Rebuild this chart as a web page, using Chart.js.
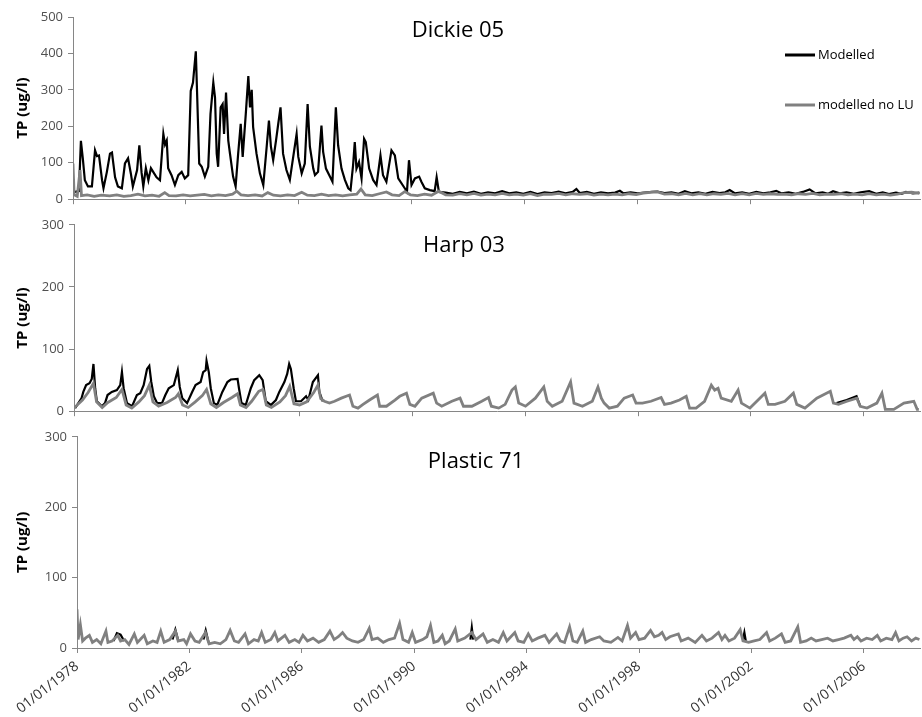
<!DOCTYPE html>
<html>
<head>
<meta charset="utf-8">
<title>TP modelled</title>
<script src="https://cdn.jsdelivr.net/npm/chart.js@4.4.0/dist/chart.umd.min.js"></script>
<style>
  body { margin: 0; background: #fff; }
  #wrap { position: relative; width: 922px; height: 717px; }
  canvas { position: absolute; left: 0; }
</style>
</head>
<body>
<div id="wrap">
  <canvas id="dickie" width="922" height="212" style="top:0"></canvas>
  <canvas id="harp" width="922" height="212" style="top:212px"></canvas>
  <canvas id="plastic" width="922" height="293" style="top:424px"></canvas>
</div>
<script>
// TP (ug/l) per catchment, [decimal year, value]; [year, null] = gap in the line

const tickYears = [1978, 1982, 1986, 1990, 1994, 1998, 2002, 2006];

const dickieModelled = [
  [1978.00, 20], [1978.07, 20], [1978.21, 22], [1978.28, 160], [1978.35, 110], [1978.42, 52],
  [1978.53, 35], [1978.67, 35], [1978.78, 134], [1978.85, 118], [1978.92, 120], [1979.03, 52],
  [1979.08, 30], [1979.20, 75], [1979.31, 125], [1979.38, 128], [1979.49, 60], [1979.59, 35],
  [1979.73, 30], [1979.84, 98], [1979.95, 112], [1980.05, 70], [1980.12, 35], [1980.27, 80],
  [1980.35, 148], [1980.43, 72], [1980.49, 35], [1980.58, 85], [1980.67, 52], [1980.76, 85],
  [1980.84, 75], [1980.96, 60], [1981.08, 52], [1981.20, 179], [1981.26, 150], [1981.32, 161],
  [1981.37, 85], [1981.49, 66], [1981.61, 39], [1981.73, 66], [1981.85, 75], [1981.96, 57],
  [1982.08, 66], [1982.17, 297], [1982.25, 320], [1982.35, 406], [1982.40, 279], [1982.47, 98],
  [1982.56, 89], [1982.67, 62], [1982.79, 89], [1982.87, 234], [1982.97, 320], [1983.03, 279],
  [1983.09, 125], [1983.14, 89], [1983.23, 252], [1983.30, 261], [1983.35, 179], [1983.42, 293],
  [1983.50, 161], [1983.56, 125], [1983.67, 62], [1983.76, 35], [1983.85, 125], [1983.94, 207],
  [1984.01, 116], [1984.12, 234], [1984.21, 338], [1984.27, 252], [1984.33, 300], [1984.38, 198],
  [1984.50, 125], [1984.62, 71], [1984.74, 39], [1984.86, 144], [1984.94, 216], [1985.01, 144],
  [1985.09, 107], [1985.19, 161], [1985.27, 207], [1985.35, 252], [1985.44, 125], [1985.56, 80],
  [1985.68, 53], [1985.80, 116], [1985.92, 179], [1985.98, 116], [1986.10, 71], [1986.21, 98],
  [1986.31, 261], [1986.39, 144], [1986.51, 84], [1986.57, 66], [1986.68, 75], [1986.80, 202],
  [1986.86, 130], [1986.96, 84], [1987.10, 62], [1987.19, 48], [1987.31, 252], [1987.39, 148],
  [1987.51, 84], [1987.63, 53], [1987.75, 30], [1987.83, 25], [1987.92, 93], [1987.98, 157],
  [1988.04, 84], [1988.13, 102], [1988.22, 57], [1988.31, 166], [1988.37, 157], [1988.49, 84],
  [1988.63, 53], [1988.75, 39], [1988.89, 120], [1988.98, 66], [1989.10, 48], [1989.28, 134],
  [1989.40, 120], [1989.52, 57], [1989.75, 30], [1989.83, 21], [1989.90, 107], [1989.99, 39],
  [1990.11, 57], [1990.26, 62], [1990.34, 48], [1990.46, 30], [1990.64, 25], [1990.81, 22],
  [1990.88, 60], [1990.96, 20], [1991.20, 18], [1991.45, 15], [1991.70, 20], [1991.95, 16],
  [1992.20, 21], [1992.45, 15], [1992.70, 19], [1992.95, 16], [1993.20, 22], [1993.45, 16],
  [1993.70, 19], [1993.95, 15], [1994.20, 20], [1994.45, 14], [1994.70, 19], [1994.95, 17],
  [1995.20, 21], [1995.45, 16], [1995.70, 20], [1995.83, 28], [1995.95, 17], [1996.20, 20],
  [1996.45, 15], [1996.70, 19], [1996.95, 16], [1997.20, 18], [1997.37, 23], [1997.50, 16],
  [1997.75, 19], [1998.00, 16], [1998.25, 18], [1998.50, 20], [1998.70, 21], [1998.95, 17],
  [1999.20, 19], [1999.45, 15], [1999.67, 22], [1999.90, 16], [2000.15, 19], [2000.40, 15],
  [2000.65, 20], [2000.90, 17], [2001.10, 19], [2001.26, 25], [2001.45, 16], [2001.70, 19],
  [2001.95, 15], [2002.20, 20], [2002.45, 16], [2002.70, 19], [2002.91, 23], [2003.10, 16],
  [2003.35, 19], [2003.60, 15], [2003.85, 20], [2004.09, 27], [2004.30, 16], [2004.55, 19],
  [2004.75, 15], [2004.92, 22], [2005.15, 16], [2005.40, 19], [2005.65, 15], [2005.90, 19],
  [2006.20, 22], [2006.45, 15], [2006.68, 19], [2006.90, 14], [2007.15, 18], [2007.35, 15],
  [2007.50, 20], [2007.75, 16], [2007.98, 18]
];

const dickieNoLU = [
  [1978.00, 98], [1978.04, 12], [1978.15, 8], [1978.25, 80], [1978.30, 10], [1978.50, 12],
  [1978.75, 8], [1979.00, 11], [1979.30, 9], [1979.55, 12], [1979.80, 8], [1980.05, 10],
  [1980.30, 14], [1980.55, 9], [1980.80, 11], [1981.05, 8], [1981.25, 18], [1981.40, 10],
  [1981.65, 9], [1981.90, 12], [1982.15, 9], [1982.40, 11], [1982.65, 13], [1982.90, 9],
  [1983.15, 12], [1983.40, 10], [1983.65, 14], [1983.80, 22], [1983.95, 12], [1984.20, 10],
  [1984.45, 12], [1984.70, 9], [1984.90, 18], [1985.10, 11], [1985.35, 9], [1985.60, 12],
  [1985.85, 10], [1986.10, 19], [1986.30, 11], [1986.55, 10], [1986.80, 14], [1987.05, 10],
  [1987.30, 12], [1987.55, 9], [1987.80, 12], [1988.05, 14], [1988.20, 28], [1988.35, 12],
  [1988.60, 10], [1988.85, 15], [1989.10, 20], [1989.30, 12], [1989.55, 10], [1989.75, 21],
  [1989.95, 12], [1990.20, 10], [1990.45, 14], [1990.70, 11], [1990.95, 22], [1991.20, 12],
  [1991.45, 11], [1991.70, 15], [1991.95, 12], [1992.20, 16], [1992.45, 11], [1992.70, 14],
  [1992.95, 12], [1993.20, 16], [1993.45, 12], [1993.70, 14], [1993.95, 11], [1994.20, 15],
  [1994.45, 10], [1994.70, 14], [1994.95, 13], [1995.20, 16], [1995.45, 12], [1995.70, 15],
  [1995.95, 13], [1996.20, 15], [1996.45, 11], [1996.70, 14], [1996.95, 12], [1997.20, 14],
  [1997.45, 12], [1997.70, 15], [1997.95, 13], [1998.20, 17], [1998.45, 19], [1998.70, 20],
  [1998.95, 14], [1999.20, 15], [1999.45, 12], [1999.70, 16], [1999.95, 12], [2000.20, 15],
  [2000.45, 12], [2000.70, 15], [2000.95, 13], [2001.20, 16], [2001.45, 12], [2001.70, 15],
  [2001.95, 12], [2002.20, 16], [2002.45, 13], [2002.70, 15], [2002.95, 13], [2003.20, 14],
  [2003.45, 12], [2003.70, 15], [2003.95, 13], [2004.20, 16], [2004.45, 12], [2004.70, 14],
  [2004.95, 13], [2005.20, 15], [2005.45, 12], [2005.70, 14], [2005.95, 12], [2006.20, 15],
  [2006.45, 12], [2006.70, 14], [2006.95, 11], [2007.20, 14], [2007.45, 18], [2007.70, 19],
  [2007.98, 16]
];

const harpModelled = [
  [1978.04, 5], [1978.27, 21], [1978.33, 31], [1978.43, 42], [1978.55, 45], [1978.63, 52],
  [1978.69, 76], [1978.75, 37], [1978.81, 16], [1978.99, 8], [1979.10, 13], [1979.19, 26],
  [1979.34, 31], [1979.52, 34], [1979.64, 42], [1979.70, 63], [1979.76, 37], [1979.88, 13],
  [1980.06, 8], [1980.23, 26], [1980.35, 29], [1980.47, 42], [1980.59, 68], [1980.67, 73],
  [1980.74, 47], [1980.83, 24], [1980.95, 13], [1981.12, 13], [1981.24, 26], [1981.36, 37],
  [1981.54, 42], [1981.68, 66], [1981.75, 39], [1981.84, 21], [1982.01, 13], [1982.19, 31],
  [1982.31, 42], [1982.49, 47], [1982.58, 63], [1982.67, 66], [1982.70, 81], [1982.78, 63],
  [1982.85, 37], [1982.96, 13], [1983.08, 10], [1983.26, 31], [1983.44, 47], [1983.56, 51],
  [1983.80, 52], [1983.85, 37], [1983.94, 13], [1984.09, 10], [1984.27, 37], [1984.39, 50],
  [1984.57, 58], [1984.69, 50], [1984.80, 16], [1984.98, 10], [1985.16, 18], [1985.28, 31],
  [1985.46, 47], [1985.56, 60], [1985.63, 76], [1985.69, 68], [1985.79, 37], [1985.87, 16],
  [1986.05, 16], [1986.23, 24], [1986.31, 18], [1986.47, 47], [1986.65, 58], [1986.70, 31],
  [1986.82, 16], [1986.90, null],
  [2005.04, 13], [2005.40, 18], [2005.75, 24], [2005.88, 8]
];

const harpNoLU = [
  [1978.00, 5], [1978.30, 18], [1978.50, 30], [1978.69, 45], [1978.80, 15], [1979.00, 6],
  [1979.20, 14], [1979.50, 22], [1979.70, 35], [1979.85, 10], [1980.05, 5], [1980.30, 15],
  [1980.50, 25], [1980.67, 42], [1980.80, 15], [1981.00, 8], [1981.30, 14], [1981.60, 22],
  [1981.70, 28], [1981.85, 10], [1982.05, 6], [1982.30, 15], [1982.55, 25], [1982.70, 35],
  [1982.85, 12], [1983.05, 6], [1983.30, 14], [1983.60, 22], [1983.80, 28], [1983.90, 10],
  [1984.10, 6], [1984.30, 16], [1984.55, 32], [1984.70, 35], [1984.82, 10], [1985.00, 6],
  [1985.30, 15], [1985.50, 25], [1985.65, 40], [1985.80, 12], [1986.00, 10], [1986.25, 15],
  [1986.50, 30], [1986.65, 42], [1986.75, 20], [1986.88, 16], [1987.06, 13], [1987.24, 16],
  [1987.48, 21], [1987.77, 26], [1987.89, 8], [1988.07, 5], [1988.25, 11], [1988.48, 18],
  [1988.76, 26], [1988.84, 8], [1989.08, 8], [1989.38, 18], [1989.55, 24], [1989.79, 29],
  [1989.91, 11], [1990.09, 8], [1990.33, 21], [1990.74, 29], [1990.86, 13], [1991.04, 8],
  [1991.40, 16], [1991.69, 21], [1991.81, 8], [1992.11, 8], [1992.46, 16], [1992.70, 22],
  [1992.80, 8], [1993.06, 5], [1993.29, 11], [1993.53, 34], [1993.65, 39], [1993.77, 13],
  [1994.01, 8], [1994.36, 21], [1994.66, 39], [1994.78, 16], [1994.96, 8], [1995.31, 16],
  [1995.61, 47], [1995.73, 13], [1996.03, 8], [1996.38, 16], [1996.58, 39], [1996.70, 21],
  [1996.80, 13], [1996.98, 5], [1997.27, 8], [1997.51, 21], [1997.81, 26], [1997.93, 13],
  [1998.16, 13], [1998.46, 16], [1998.82, 22], [1998.94, 11], [1999.17, 13], [1999.47, 18],
  [1999.71, 24], [1999.83, 5], [2000.06, 5], [2000.36, 16], [2000.60, 42], [2000.72, 34],
  [2000.84, 37], [2000.95, 21], [2001.31, 16], [2001.55, 34], [2001.67, 13], [2001.97, 5],
  [2002.32, 21], [2002.50, 29], [2002.62, 11], [2002.86, 11], [2003.21, 16], [2003.51, 29],
  [2003.63, 11], [2003.92, 5], [2004.34, 21], [2004.82, 32], [2004.93, 13], [2005.11, 11],
  [2005.41, 16], [2005.76, 21], [2005.88, 8], [2006.12, 5], [2006.47, 13], [2006.65, 29],
  [2006.77, 3], [2007.07, 3], [2007.43, 13], [2007.78, 16], [2007.90, 3], [2007.96, 3]
];

const plasticModelled = [
  [1979.30, 10], [1979.42, 21], [1979.55, 19], [1979.68, 10], [1979.70, null],
  [1981.40, 12], [1981.50, 26], [1981.60, 11], [1981.62, null],
  [1982.50, 12], [1982.58, 25], [1982.68, 8], [1982.70, null],
  [1992.00, 12], [1992.05, 29], [1992.10, 12], [1992.12, null],
  [2001.70, 12], [2001.75, 22], [2001.80, 10]
];

const plasticNoLU = [
  [1978.00, 55], [1978.04, 12], [1978.12, 33], [1978.20, 10], [1978.30, 14], [1978.44, 18],
  [1978.55, 8], [1978.70, 12], [1978.85, 6], [1979.03, 24], [1979.10, 8], [1979.25, 10],
  [1979.45, 18], [1979.55, 10], [1979.70, 12], [1979.85, 5], [1980.04, 20], [1980.15, 8],
  [1980.25, 12], [1980.39, 18], [1980.50, 6], [1980.70, 10], [1980.85, 8], [1980.98, 24],
  [1981.10, 8], [1981.30, 12], [1981.50, 24], [1981.60, 10], [1981.80, 12], [1981.90, 6],
  [1982.04, 20], [1982.20, 10], [1982.35, 8], [1982.57, 22], [1982.70, 6], [1982.90, 8],
  [1983.10, 6], [1983.30, 12], [1983.45, 25], [1983.60, 10], [1983.75, 8], [1983.98, 20],
  [1984.10, 6], [1984.30, 12], [1984.45, 10], [1984.57, 22], [1984.70, 8], [1984.90, 12],
  [1985.04, 22], [1985.15, 10], [1985.40, 18], [1985.55, 8], [1985.75, 12], [1985.90, 8],
  [1986.04, 18], [1986.20, 10], [1986.40, 14], [1986.60, 8], [1986.80, 12], [1987.00, 24],
  [1987.15, 12], [1987.30, 16], [1987.45, 22], [1987.60, 14], [1987.80, 10], [1988.00, 8],
  [1988.20, 12], [1988.40, 28], [1988.50, 12], [1988.70, 14], [1988.90, 8], [1989.10, 12],
  [1989.30, 14], [1989.48, 35], [1989.60, 12], [1989.80, 8], [1989.93, 22], [1990.05, 8],
  [1990.30, 12], [1990.45, 16], [1990.58, 32], [1990.70, 8], [1990.85, 10], [1991.00, 18],
  [1991.10, 6], [1991.25, 10], [1991.46, 27], [1991.55, 10], [1991.80, 14], [1992.05, 22],
  [1992.20, 12], [1992.45, 20], [1992.60, 8], [1992.80, 12], [1993.00, 8], [1993.17, 22],
  [1993.30, 10], [1993.58, 22], [1993.70, 10], [1993.90, 8], [1994.06, 20], [1994.20, 10],
  [1994.40, 14], [1994.65, 18], [1994.80, 8], [1995.07, 20], [1995.20, 10], [1995.35, 8],
  [1995.53, 30], [1995.65, 10], [1995.80, 8], [1996.00, 24], [1996.10, 8], [1996.30, 12],
  [1996.60, 16], [1996.75, 10], [1997.00, 8], [1997.25, 15], [1997.40, 10], [1997.59, 32],
  [1997.70, 14], [1997.88, 22], [1998.00, 12], [1998.20, 14], [1998.41, 25], [1998.55, 16],
  [1998.70, 18], [1998.82, 22], [1998.95, 12], [1999.10, 16], [1999.40, 20], [1999.50, 10],
  [1999.75, 14], [2000.00, 8], [2000.24, 18], [2000.40, 10], [2000.60, 14], [2000.83, 22],
  [2000.95, 12], [2001.06, 18], [2001.20, 10], [2001.40, 14], [2001.60, 26], [2001.70, 10],
  [2001.90, 8], [2002.10, 10], [2002.30, 12], [2002.54, 22], [2002.65, 10], [2002.85, 14],
  [2003.07, 20], [2003.20, 8], [2003.40, 10], [2003.65, 30], [2003.75, 8], [2003.95, 10],
  [2004.13, 14], [2004.30, 10], [2004.50, 12], [2004.71, 14], [2004.90, 10], [2005.10, 12],
  [2005.30, 14], [2005.54, 18], [2005.65, 12], [2005.77, 16], [2005.90, 10], [2006.10, 14],
  [2006.30, 12], [2006.48, 18], [2006.60, 10], [2006.80, 14], [2007.00, 12], [2007.13, 22],
  [2007.25, 10], [2007.40, 14], [2007.54, 16], [2007.70, 10], [2007.85, 14], [2007.98, 12]
];

const AXIS = '#868686';
const TICK_TEXT = '#505050';
const FONT = "'Open Sans', sans-serif";

// draws the panel name and (top panel only) the legend
const panelText = {
    id: 'panelText',
    afterDraw(chart, args, opts) {
        const ctx = chart.ctx;
        ctx.save();
        ctx.fillStyle = '#000';
        ctx.font = '22px ' + FONT;
        ctx.textAlign = 'center';
        ctx.textBaseline = 'alphabetic';
        ctx.fillText(opts.title, opts.titleX, opts.titleY);
        if (opts.legend) {
            ctx.font = '13px ' + FONT;
            ctx.textAlign = 'left';
            ctx.textBaseline = 'middle';
            opts.legend.forEach((item, i) => {
                const y = 55 + i * 50;
                ctx.strokeStyle = item.color;
                ctx.lineWidth = 3;
                ctx.beginPath();
                ctx.moveTo(785, y);
                ctx.lineTo(815, y);
                ctx.stroke();
                ctx.fillStyle = '#000';
                ctx.fillText(item.label, 818, y);
            });
        }
        ctx.restore();
    }
};

function toPoints(pairs) {
    return pairs.map(p => ({ x: p[0], y: p[1] }));
}

function makePanel(id, cfg) {
    const ctx = document.getElementById(id).getContext('2d');
    return new Chart(ctx, {
        type: 'line',
        data: {
            datasets: [{
                label: 'modelled no LU',
                data: toPoints(cfg.noLU),
                borderColor: '#808080',
                borderWidth: 2.8,
                pointRadius: 0,
                order: 0
            }, {
                label: 'Modelled',
                data: toPoints(cfg.modelled),
                borderColor: '#000000',
                borderWidth: 2.2,
                pointRadius: 0,
                order: 1
            }]
        },
        plugins: [panelText],
        options: {
            responsive: false,
            animation: false,
            spanGaps: false,
            layout: { padding: { top: cfg.top, left: 10, right: 2, bottom: 0 } },
            plugins: {
                legend: { display: false },
                tooltip: { enabled: false },
                panelText: {
                    title: cfg.title, titleX: cfg.titleX, titleY: cfg.titleY,
                    legend: cfg.legend ? [
                        { label: 'Modelled', color: '#000000' },
                        { label: 'modelled no LU', color: '#808080' }
                    ] : null
                }
            },
            scales: {
                x: {
                    type: 'linear',
                    min: 1978,
                    max: 2008,
                    afterBuildTicks: s => { s.ticks = tickYears.map(v => ({ value: v })); },
                    afterFit: s => { s.height = cfg.xHeight; },
                    grid: { drawOnChartArea: false, tickLength: 5, color: AXIS },
                    border: { color: AXIS },
                    ticks: {
                        display: cfg.dateLabels,
                        autoSkip: false,
                        minRotation: 38,
                        maxRotation: 38,
                        padding: 5,
                        color: '#333',
                        font: { family: FONT, size: 14 },
                        callback: v => '01/01/' + v
                    }
                },
                y: {
                    min: 0,
                    max: cfg.yMax,
                    afterFit: s => { s.width = cfg.yWidth; },
                    grid: { drawOnChartArea: false, tickLength: 5, color: AXIS },
                    border: { color: AXIS },
                    ticks: {
                        stepSize: 100,
                        padding: 5,
                        color: TICK_TEXT,
                        font: { family: FONT, size: 13 }
                    },
                    title: {
                        display: true,
                        text: 'TP (ug/l)',
                        color: '#000',
                        font: { family: FONT, size: 15, weight: 'bold' },
                        padding: { top: 4, bottom: 4 }
                    }
                }
            }
        }
    });
}

makePanel('dickie', {
    modelled: dickieModelled, noLU: dickieNoLU, yMax: 500,
    title: 'Dickie 05', titleX: 458, titleY: 37, legend: true,
    top: 17, xHeight: 11, yWidth: 63, dateLabels: false
});

makePanel('harp', {
    modelled: harpModelled, noLU: harpNoLU, yMax: 300,
    title: 'Harp 03', titleX: 464, titleY: 40, legend: false,
    top: 11, xHeight: 11, yWidth: 64, dateLabels: false
});

makePanel('plastic', {
    modelled: plasticModelled, noLU: plasticNoLU, yMax: 300,
    title: 'Plastic 71', titleX: 476, titleY: 44, legend: false,
    top: 10, xHeight: 69, yWidth: 67, dateLabels: true
});
</script>
</body>
</html>
